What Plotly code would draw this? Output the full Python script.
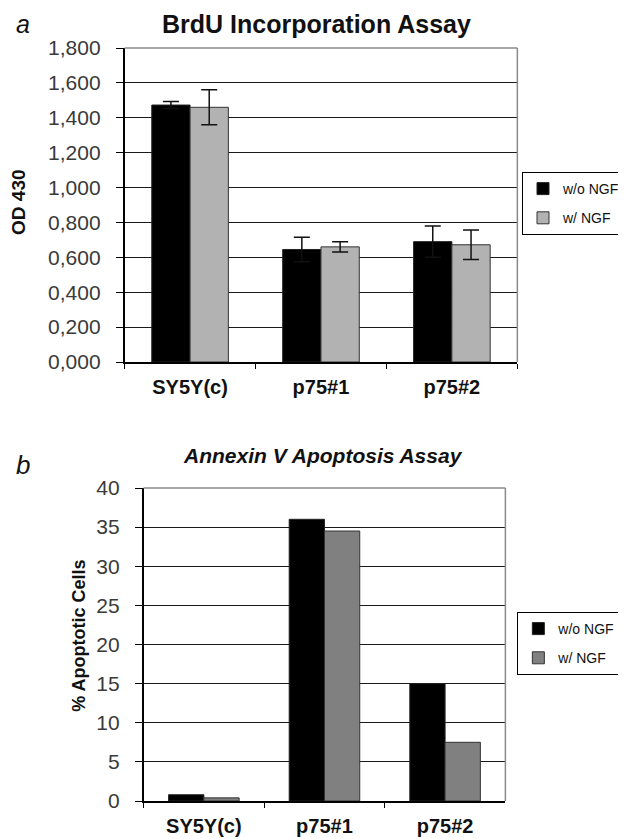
import plotly.graph_objects as go

categories = ["SY5Y(c)", "p75#1", "p75#2"]

# Panel a: BrdU incorporation (OD 430)
brdu_wo_ngf = [1.473, 0.645, 0.690]
brdu_wo_ngf_err = [0.02, 0.07, 0.09]
brdu_w_ngf = [1.460, 0.660, 0.672]
brdu_w_ngf_err = [0.10, 0.03, 0.085]

# Panel b: Annexin V apoptosis (% apoptotic cells)
apo_wo_ngf = [0.8, 36.0, 15.0]
apo_w_ngf = [0.4, 34.5, 7.5]

series_names = ["w/o NGF", "w/ NGF"]

FONT = "Liberation Sans, Arial, sans-serif"

fig = go.Figure()

fig.add_trace(go.Bar(
    x=categories, y=brdu_wo_ngf, name=series_names[0], legendgroup="a1",
    marker=dict(color="#000000", line=dict(color="#222222", width=1)),
    error_y=dict(type="data", array=brdu_wo_ngf_err, color="#111111", thickness=1.5, width=8),
    xaxis="x", yaxis="y", legend="legend",
))
fig.add_trace(go.Bar(
    x=categories, y=brdu_w_ngf, name=series_names[1], legendgroup="a2",
    marker=dict(color="#b2b2b2", line=dict(color="#333333", width=1)),
    error_y=dict(type="data", array=brdu_w_ngf_err, color="#111111", thickness=1.5, width=8),
    xaxis="x", yaxis="y", legend="legend",
))
fig.add_trace(go.Bar(
    x=categories, y=apo_wo_ngf, name=series_names[0], legendgroup="b1",
    marker=dict(color="#000000", line=dict(color="#222222", width=1)),
    xaxis="x2", yaxis="y2", legend="legend2",
))
fig.add_trace(go.Bar(
    x=categories, y=apo_w_ngf, name=series_names[1], legendgroup="b2",
    marker=dict(color="#808080", line=dict(color="#333333", width=1)),
    xaxis="x2", yaxis="y2", legend="legend2",
))

# the page body adds an 8px margin, so the figure is 8px smaller and
# reference pixel positions are shifted by 8
OFF = 8
W, H = 626 - OFF, 839 - OFF
def px(x):
    return (x - OFF) / W
def py(y):
    return 1 - (y - OFF) / H

xcommon = dict(
    showgrid=False, showline=True, linecolor="#000000", linewidth=1.5,
    ticks="outside", tickson="boundaries", ticklen=5, tickcolor="#000000",
    tickfont=dict(family=FONT, size=20, color="#111111", weight="bold"),
    ticklabelstandoff=6,
    fixedrange=True, automargin=False,
)
ycommon = dict(
    showgrid=True, gridcolor="#1a1a1a", gridwidth=1.2,
    showline=True, linecolor="#000000", linewidth=1.5,
    ticks="outside", ticklen=7, tickcolor="#000000",
    tickfont=dict(family=FONT, size=21, color="#3a3a3a"),
    ticklabelstandoff=11,
    zeroline=False, fixedrange=True, automargin=False,
)

legend_common = dict(
    xanchor="left", yanchor="top",
    bordercolor="#000000", borderwidth=1, bgcolor="white",
    font=dict(family=FONT, size=14, color="#111111"),
    itemwidth=30, tracegroupgap=8,
)

fig.update_layout(
    width=W, height=H,
    margin=dict(l=0, r=0, t=0, b=0),
    paper_bgcolor="white", plot_bgcolor="white",
    barmode="group", bargap=0.415, bargroupgap=0,
    separators=",.",
    xaxis=dict(domain=[px(125), px(519)], anchor="y", **xcommon),
    yaxis=dict(domain=[py(362), py(48)], anchor="x", range=[0, 1.8], dtick=0.2,
               tickformat=".3f", **ycommon),
    xaxis2=dict(domain=[px(144), px(507)], anchor="y2", **xcommon),
    yaxis2=dict(domain=[py(801), py(488)], anchor="x2", range=[0, 40], dtick=5,
                **ycommon),
    legend=dict(x=px(524), y=py(172), **legend_common),
    legend2=dict(x=px(519), y=py(612), **legend_common),
    showlegend=True,
)

# gray top/right frame lines
for xr, yr in (("x domain", "y domain"), ("x2 domain", "y2 domain")):
    fig.add_shape(type="line", xref=xr, yref=yr, x0=0, x1=1, y0=1, y1=1,
                  line=dict(color="#8a8a8a", width=1.5))
    fig.add_shape(type="line", xref=xr, yref=yr, x0=1, x1=1, y0=0, y1=1,
                  line=dict(color="#8a8a8a", width=1.5))

annots = [
    dict(text="<i>a</i>", x=px(23), y=1, yanchor="top",
         font=dict(family=FONT, size=25, color="#111111")),
    dict(text="<b>BrdU Incorporation Assay</b>", x=px(318), y=1, yanchor="top",
         font=dict(family=FONT, size=25, color="#111111")),
    dict(text="<b>OD 430</b>", x=px(18), y=py(202), yanchor="middle", textangle=-90,
         font=dict(family=FONT, size=19, color="#111111")),
    dict(text="<i>b</i>", x=px(23), y=py(465), yanchor="middle",
         font=dict(family=FONT, size=26, color="#111111")),
    dict(text="<b><i>Annexin V Apoptosis Assay</i></b>", x=px(324), y=py(455), yanchor="middle",
         font=dict(family=FONT, size=21, color="#111111")),
    dict(text="<b>% Apoptotic Cells</b>", x=px(79), y=py(636), yanchor="middle", textangle=-90,
         font=dict(family=FONT, size=18, color="#111111")),
]
for a in annots:
    fig.add_annotation(xref="paper", yref="paper", showarrow=False,
                       xanchor="center", **a)

fig.write_html("out.html")
